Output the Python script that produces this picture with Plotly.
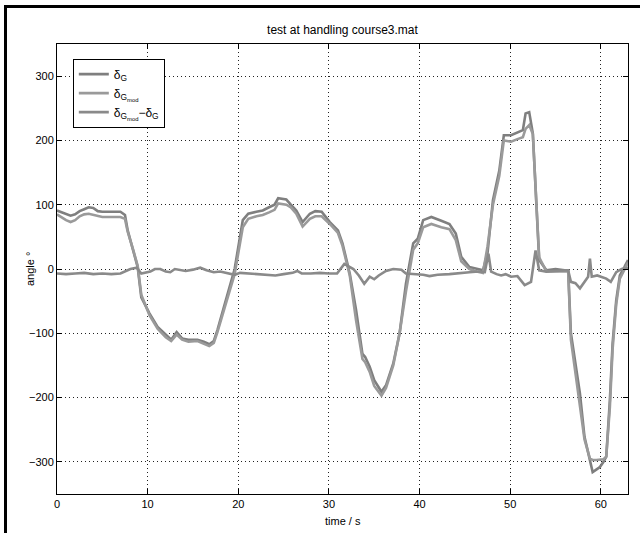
import plotly.graph_objects as go

# time axis for steering angle series
t_g = [0, 0.5, 1.0, 1.5, 2.0, 2.5, 3.0, 3.5, 4.0, 4.5, 5.0, 6.0, 7.0, 7.5, 7.8, 8.4, 8.9, 9.3,
       10.2, 11.1, 12.0, 12.6, 13.2, 13.8, 14.5, 15.5, 16.2, 16.8, 17.3, 17.7, 18.5, 19.6, 20.5,
       21.1, 22.0, 22.7, 23.4, 24.0, 24.4, 25.3, 25.8, 26.4, 27.1, 27.9, 28.5, 29.2, 30.1, 31.0,
       31.5, 32.3, 33.0, 33.7, 34.0, 34.5, 35.0, 35.8, 36.3, 37.1, 37.8, 38.5, 39.3, 39.8, 40.4,
       41.3, 42.4, 43.3, 44.0, 44.6, 45.5, 46.3, 47.0, 47.5, 48.1, 48.8, 49.3, 50.1, 50.8, 51.4,
       51.7, 52.1, 52.5, 52.9, 53.2, 54.0, 55.0, 56.0, 56.4, 56.7, 57.1, 57.7, 58.2, 58.8, 59.1,
       59.5, 59.9, 60.3, 60.6, 61.0, 61.3, 61.7, 62.1, 62.6, 63.0]

delta_g = [91, 88, 85, 83, 85, 90, 93, 96, 95, 90, 89, 89, 89, 84, 60, 29, 3, -44,
           -69, -90, -103, -110, -98, -108, -110, -110, -113, -117, -112, -95, -55, 0, 76,
           86, 89, 91, 96, 100, 110, 108, 100, 91, 73, 86, 90, 89, 73, 60,
           40, -7, -64, -132, -137, -152, -173, -191, -181, -147, -100, -23, 40, 47, 76,
           81, 75, 70, 55, 19, 3, 0, -2, 25, 107, 153, 208, 208, 213, 216,
           242, 244, 211, 107, 14, -2, 0, -2, -2, -100, -136, -194, -261, -297, -316,
           -312, -308, -300, -292, -204, -116, -49, -10, 3, 14]

delta_g_mod = [85, 80, 76, 73, 76, 82, 85, 86, 84, 82, 81, 81, 81, 78, 58, 30, 5, -40,
               -72, -93, -106, -112, -102, -110, -113, -112, -116, -120, -115, -98, -60, -8, 65,
               78, 82, 84, 88, 92, 102, 100, 96, 86, 66, 78, 82, 82, 70, 56,
               36, -10, -80, -140, -145, -160, -182, -197, -185, -150, -100, -35, 30, 40, 65,
               70, 65, 62, 45, 12, 0, -4, -6, 35, 100, 145, 200, 198, 202, 205,
               218, 224, 210, 110, 18, -4, -4, -4, -4, -110, -150, -210, -265, -295, -297,
               -297, -297, -296, -292, -215, -125, -55, -15, 0, 10]

# time axis and values for the difference series
t_d = [0, 1, 2, 3, 4, 5, 6, 7, 8.1, 8.8, 9.3, 10.3, 10.8, 11.4, 12.0, 12.5, 13.0, 13.6, 14.2,
       15.0, 15.8, 16.5, 17.3, 18.0, 18.8, 19.6, 20.2, 21.2, 22.0, 23.0, 24.1, 25.0, 26.0, 26.5,
       27.0, 28.0, 29.0, 30.0, 30.9, 31.7, 32.7, 33.3, 33.9, 34.5, 35.0, 35.5, 36.3, 37.1, 38.0,
       38.5, 39.5, 40.4, 41.1, 42.0, 43.3, 44.5, 45.5, 46.5, 47.2, 47.6, 47.9, 48.5, 49.0, 49.5,
       50.1, 50.8, 51.3, 51.6, 52.3, 52.8, 53.2, 54.0, 55.0, 56.0, 56.4, 56.7, 57.2, 57.7, 58.2,
       58.6, 58.8, 59.0, 59.6, 60.2, 60.6, 61.1, 61.7, 62.3, 63.0]

diff_vals = [-7, -8, -7, -6, -8, -7, -8, -7, 0, 2, -7, -4, 0, 0, -4, -5, 0, -2, -3,
             -1, 2, -2, -5, -4, -7, -9, -6, -7, -8, -8, -10, -8, -6, -3,
             -7, -7, -6, -7, -7, 8, 0, -10, -23, -12, -16, -10, -3, 0, -1,
             -7, -8, -9, -11, -9, -8, -6, -5, -4, -5, 24, -4, -8, -10, -8,
             -12, -11, -20, -25, -20, 29, -2, -4, -3, -2, -2, -20, -22, -30, -20,
             -12, 16, -12, -10, -13, -15, -20, -5, 0, 2]

x_ticks = [0, 10, 20, 30, 40, 50, 60]
y_ticks = [-300, -200, -100, 0, 100, 200, 300]

FONT = "Liberation Sans, Arial, Helvetica, sans-serif"

fig = go.Figure()
fig.add_trace(go.Scatter(x=t_g, y=delta_g, mode="lines", name="δ<sub>G</sub>",
                         line=dict(color="#7f7f7f", width=2.6)))
fig.add_trace(go.Scatter(x=t_g, y=delta_g_mod, mode="lines", name="δ<sub>G<sub>mod</sub></sub>",
                         line=dict(color="#9a9a9a", width=2.6)))
fig.add_trace(go.Scatter(x=t_d, y=diff_vals, mode="lines",
                         name="δ<sub>G<sub>mod</sub></sub>−δ<sub>G</sub>",
                         line=dict(color="#8a8a8a", width=2.6)))

axis_common = dict(
    showline=True, linecolor="black", linewidth=1, mirror="allticks",
    ticks="inside", ticklen=5, tickcolor="black", tickwidth=1,
    showgrid=True, gridcolor="#222222", griddash="1px,3px", gridwidth=1,
    zeroline=False, tickfont=dict(family=FONT, size=11, color="black"),
)

fig.update_layout(
    width=640, height=533,
    margin=dict(l=57, r=12, t=44, b=39),
    paper_bgcolor="white", plot_bgcolor="white",
    font=dict(family=FONT, size=11, color="black"),
    title=dict(text="test at handling course3.mat", x=0.5, xref="paper",
               y=1 - 29.5 / 533, yanchor="middle", font=dict(family=FONT, size=12)),
    xaxis=dict(range=[0, 63], tickvals=x_ticks, **axis_common),
    yaxis=dict(range=[-350, 350], tickvals=y_ticks, **axis_common),
    showlegend=True,
    legend=dict(x=0.0277, y=0.9676, xanchor="left", yanchor="top",
                bordercolor="black", borderwidth=1, bgcolor="white",
                font=dict(family=FONT, size=12), tracegroupgap=0),
    annotations=[
        dict(text="angle °", textangle=-90, xref="paper", yref="paper",
             x=(30 - 57) / 571, y=0.5, showarrow=False, xanchor="center", yanchor="middle",
             font=dict(family=FONT, size=11)),
        dict(text="time / s", xref="paper", yref="paper",
             x=0.5, y=(494 - 521) / 450, showarrow=False, xanchor="center", yanchor="middle",
             font=dict(family=FONT, size=11)),
    ],
    shapes=[
        dict(type="line", xref="paper", yref="paper",
             x0=(5.5 - 57) / 571, x1=(5.5 - 57) / 571, y0=(494 - 5) / 450, y1=(494 - 540) / 450,
             line=dict(color="black", width=3)),
        dict(type="line", xref="paper", yref="paper",
             x0=(4 - 57) / 571, x1=(645 - 57) / 571, y0=(494 - 6.5) / 450, y1=(494 - 6.5) / 450,
             line=dict(color="black", width=3)),
    ],
)

fig.write_html("out.html", config={"displayModeBar": False},
               post_script="document.body.style.margin='0';")
